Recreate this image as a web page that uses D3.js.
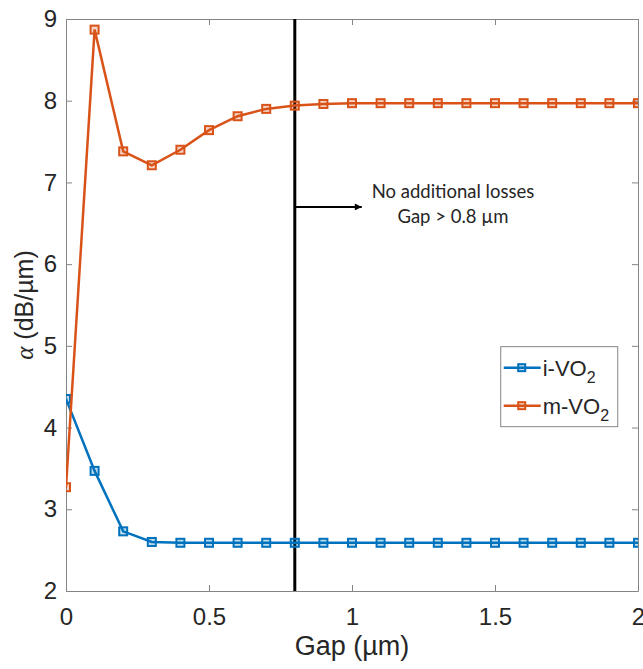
<!DOCTYPE html>
<html>
<head>
<meta charset="utf-8">
<script src="https://cdn.jsdelivr.net/npm/d3@7"></script>
<style>
  body { margin: 0; background: #fff; }
  svg text { font-family: "Liberation Sans", Arial, sans-serif; fill: #262626; }
</style>
</head>
<body>
<svg class="chart" width="643" height="669"></svg>
<script>

// Gap values (µm) and the two series.
var gaps = [0, 0.1, 0.2, 0.3, 0.4, 0.5, 0.6, 0.7, 0.8, 0.9, 1.0,
            1.1, 1.2, 1.3, 1.4, 1.5, 1.6, 1.7, 1.8, 1.9, 2.0];
var iVO2 = [4.35, 3.47, 2.73, 2.60, 2.59, 2.59, 2.59, 2.59, 2.59, 2.59, 2.59,
            2.59, 2.59, 2.59, 2.59, 2.59, 2.59, 2.59, 2.59, 2.59, 2.59];
var mVO2 = [3.27, 8.87, 7.38, 7.21, 7.40, 7.64, 7.81, 7.90, 7.94, 7.96, 7.97,
            7.97, 7.97, 7.97, 7.97, 7.97, 7.97, 7.97, 7.97, 7.97, 7.97];
var xTicks = [0, 0.5, 1, 1.5, 2];
var yTicks = [2, 3, 4, 5, 6, 7, 8, 9];
var cutoff = 0.8;

var margin = {top: 19, right: 5, bottom: 78, left: 66},
    width = 643 - margin.left - margin.right,
    height = 669 - margin.top - margin.bottom;

var svg = d3.select(".chart")
  .append("g")
    .attr("transform", "translate(" + margin.left + "," + margin.top + ")");

var x = d3.scaleLinear().domain([0, 2]).range([0, width]);
var y = d3.scaleLinear().domain([2, 9]).range([height, 0]);

// Clip the marks to the axes box.
svg.append("clipPath")
    .attr("id", "plotclip")
  .append("rect")
    .attr("width", width)
    .attr("height", height);

// Axes, ticks pointing inward on all four sides.
function styleAxis(g) {
  g.selectAll("path").attr("stroke", "#858585").attr("stroke-width", 1);
  g.selectAll("line").attr("stroke", "#858585");
  g.selectAll("text").style("font-size", "24px").attr("fill", "#262626");
}

svg.append("g")
    .attr("transform", "translate(0," + height + ")")
    .call(d3.axisBottom(x).tickValues(xTicks).tickSize(-6).tickPadding(17).tickSizeOuter(0)
      .tickFormat(d3.format("")))
    .call(styleAxis);

svg.append("g")
    .call(d3.axisTop(x).tickValues(xTicks).tickSize(-6).tickFormat("").tickSizeOuter(0))
    .call(styleAxis);

svg.append("g")
    .call(d3.axisLeft(y).tickValues(yTicks).tickSize(-6).tickPadding(9).tickSizeOuter(0)
      .tickFormat(d3.format("d")))
    .call(styleAxis);

svg.append("g")
    .attr("transform", "translate(" + width + ",0)")
    .call(d3.axisRight(y).tickValues(yTicks).tickSize(-6).tickFormat("").tickSizeOuter(0))
    .call(styleAxis);

// Axis titles.
svg.append("text")
    .attr("x", width / 2)
    .attr("y", height + 64)
    .attr("text-anchor", "middle")
    .style("font-size", "27px")
    .text("Gap (µm)");

var yLabel = svg.append("text")
    .attr("transform", "translate(-33," + (height / 2) + ") rotate(-90)")
    .attr("text-anchor", "middle")
    .style("font-size", "25px");
yLabel.append("tspan")
    .style("font-family", "'Liberation Serif', 'Times New Roman', serif")
    .style("font-style", "italic")
    .text("α");
yLabel.append("tspan").text(" (dB/µm)");

// Cut-off line and annotation.
svg.append("line")
    .attr("x1", x(cutoff)).attr("x2", x(cutoff))
    .attr("y1", 0).attr("y2", height)
    .attr("stroke", "#000")
    .attr("stroke-width", 3);

svg.append("defs").append("marker")
    .attr("id", "arrow")
    .attr("viewBox", "0 0 10 10")
    .attr("refX", 10).attr("refY", 5)
    .attr("markerWidth", 9).attr("markerHeight", 7)
    .attr("markerUnits", "userSpaceOnUse")
    .attr("orient", "auto")
  .append("path")
    .attr("d", "M0,0 L10,5 L0,10 Z")
    .attr("fill", "#000");

svg.append("line")
    .attr("x1", x(cutoff)).attr("x2", x(cutoff) + 67)
    .attr("y1", y(6.70)).attr("y2", y(6.70))
    .attr("stroke", "#000")
    .attr("stroke-width", 2)
    .attr("marker-end", "url(#arrow)");

var note = svg.append("text")
    .attr("text-anchor", "middle")
    .style("font-family", "Lato, 'Open Sans', sans-serif")
    .style("font-size", "18.5px")
    .attr("fill", "#000");
note.append("tspan").attr("x", x(1.353)).attr("y", y(6.81)).text("No additional losses");
note.append("tspan").attr("x", x(1.353)).attr("y", y(6.50)).text("Gap > 0.8 µm");

// Series.
var series = [
  {name: "i", values: iVO2, color: "#0072BD"},
  {name: "m", values: mVO2, color: "#D95319"}
];

var line = d3.line()
    .x(function(d, i) { return x(gaps[i]); })
    .y(function(d) { return y(d); });

var plot = svg.append("g").attr("clip-path", "url(#plotclip)");

series.forEach(function(s) {
  plot.append("path")
      .datum(s.values)
      .attr("fill", "none")
      .attr("stroke", s.color)
      .attr("stroke-width", 2.5)
      .attr("d", line);

  plot.selectAll(".mk-" + s.name)
      .data(s.values)
    .enter().append("rect")
      .attr("class", "mk-" + s.name)
      .attr("x", function(d, i) { return x(gaps[i]) - 4; })
      .attr("y", function(d) { return y(d) - 4; })
      .attr("width", 8)
      .attr("height", 8)
      .attr("fill", s.color)
      .attr("fill-opacity", 0.25)
      .attr("stroke", s.color)
      .attr("stroke-width", 2);
});

// Legend.
var legend = svg.append("g")
    .attr("transform", "translate(" + (x(1.52)) + "," + y(4.99) + ")");

legend.append("rect")
    .attr("width", 117)
    .attr("height", 80)
    .attr("fill", "#fff")
    .attr("stroke", "#858585")
    .attr("stroke-width", 1);

var labels = ["i-VO", "m-VO"];
series.forEach(function(s, i) {
  var row = legend.append("g").attr("transform", "translate(0," + (21 + i * 38) + ")");
  row.append("line")
      .attr("x1", 3).attr("x2", 40)
      .attr("stroke", s.color).attr("stroke-width", 2.5);
  row.append("rect")
      .attr("x", 17.5).attr("y", -3.5)
      .attr("width", 7).attr("height", 7)
      .attr("fill", s.color).attr("fill-opacity", 0.25)
      .attr("stroke", s.color).attr("stroke-width", 2);
  var t = row.append("text")
      .attr("x", 42)
      .attr("y", 8)
      .style("font-size", "22px");
  t.append("tspan").text(labels[i]);
  t.append("tspan").attr("dy", 7).style("font-size", "16px").text("2");
});

</script>
</body>
</html>
